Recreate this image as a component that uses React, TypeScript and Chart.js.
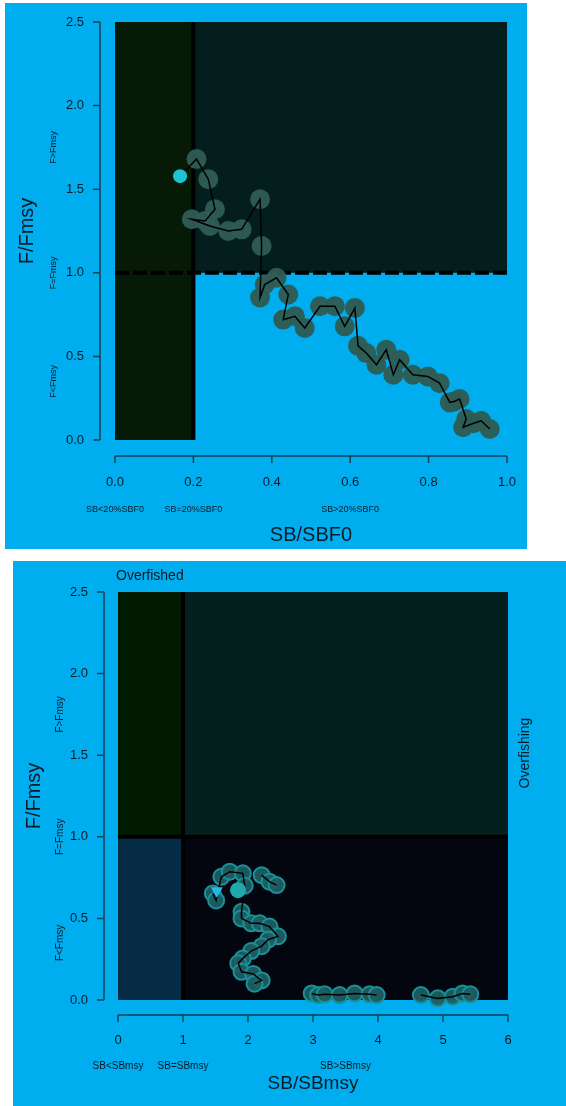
import React, { useEffect, useRef } from "react";
import { Chart, registerables } from "chart.js";

Chart.register(...registerables);

// ---------- Top panel (SB/SBF0) ----------
const topSB = [0.956, 0.934, 0.915, 0.888, 0.896, 0.879, 0.865, 0.854, 0.828, 0.798, 0.76, 0.726, 0.71, 0.692, 0.667, 0.641, 0.62, 0.612, 0.586, 0.561, 0.523, 0.484, 0.459, 0.429, 0.442, 0.412, 0.382, 0.37, 0.374, 0.37, 0.323, 0.289, 0.242, 0.196, 0.23, 0.255, 0.238, 0.208, 0.166];
const topF = [0.066, 0.115, 0.10, 0.076, 0.125, 0.245, 0.23, 0.225, 0.34, 0.38, 0.39, 0.48, 0.39, 0.54, 0.45, 0.52, 0.563, 0.79, 0.68, 0.80, 0.80, 0.67, 0.74, 0.72, 0.87, 0.97, 0.93, 0.852, 1.16, 1.44, 1.26, 1.25, 1.28, 1.32, 1.31, 1.38, 1.56, 1.68, 1.578];
const topCurrentSB = [0.166];
const topCurrentF = [1.578];
const topXTicks = [0, 0.2, 0.4, 0.6, 0.8, 1.0];
const topYTicks = [0, 0.5, 1.0, 1.5, 2.0, 2.5];
const topZoneLabels = ["SB<20%SBF0", "SB=20%SBF0", "SB>20%SBF0"];
const topZoneLabelAt = [0.0, 0.2, 0.6];
const topSBLimit = 0.2;

// ---------- Bottom panel (SB/SBmsy) ----------
const botSB = [1.46, 1.51, 1.59, 1.72, 1.92, 1.95, 1.90, 1.90, 2.05, 2.18, 2.33, 2.46, 2.31, 2.21, 2.05, 1.92, 1.85, 1.90, 2.08, 2.21, 2.10];
const botF = [0.653, 0.61, 0.755, 0.786, 0.776, 0.70, 0.54, 0.50, 0.47, 0.47, 0.45, 0.39, 0.37, 0.33, 0.30, 0.255, 0.225, 0.173, 0.16, 0.12, 0.10];
const botLoopSB = [2.21, 2.33, 2.44];
const botLoopF = [0.765, 0.725, 0.704];
const botLowASB = [2.98, 3.08, 3.18, 3.41, 3.64, 3.87, 3.98];
const botLowAF = [0.04, 0.03, 0.035, 0.03, 0.04, 0.035, 0.03];
const botLowBSB = [4.66, 4.92, 5.15, 5.30, 5.42];
const botLowBF = [0.03, 0.01, 0.02, 0.04, 0.035];
const botStartSB = [1.52];
const botStartF = [0.67];
const botCurrentSB = [1.846];
const botCurrentF = [0.673];
const botXTicks = [0, 1, 2, 3, 4, 5, 6];
const botYTicks = [0, 0.5, 1.0, 1.5, 2.0, 2.5];
const botZoneLabels = ["SB<SBmsy", "SB=SBmsy", "SB>SBmsy"];
const botZoneLabelAt = [0, 1, 3.5];
const botSBLimit = 1.0;

const fLimit = 1.0;
const fLabels = ["F>Fmsy", "F=Fmsy", "F<Fmsy"];
const fLabelAt = [1.75, 1.0, 0.35];

const BLUE = "#00aeef";
const FONT = "'Liberation Sans', Arial, Helvetica, sans-serif";
const INK = "#0a1b26";
const AXIS = "#123f55";

const pts = (xs: number[], ys: number[]) => xs.map((x, i) => ({ x, y: ys[i] }));

function decorPlugin(cfg: any) {
  return {
    id: "decor",
    beforeDatasetsDraw(chart: any) {
      const { ctx, scales } = chart;
      const x = scales.x, y = scales.y;
      ctx.save();
      for (const z of cfg.zones) {
        const x0 = x.getPixelForValue(z.x0), x1 = x.getPixelForValue(z.x1);
        const y0 = y.getPixelForValue(z.y0), y1 = y.getPixelForValue(z.y1);
        ctx.fillStyle = z.color;
        ctx.fillRect(x0, y1, x1 - x0, y0 - y1);
      }
      ctx.strokeStyle = "#000";
      ctx.lineWidth = 4;
      ctx.beginPath();
      ctx.moveTo(x.getPixelForValue(cfg.sbLimit), y.getPixelForValue(0));
      ctx.lineTo(x.getPixelForValue(cfg.sbLimit), y.getPixelForValue(y.max));
      ctx.stroke();
      ctx.setLineDash(cfg.hDash);
      ctx.beginPath();
      ctx.moveTo(x.getPixelForValue(x.min), y.getPixelForValue(fLimit));
      ctx.lineTo(x.getPixelForValue(x.max), y.getPixelForValue(fLimit));
      ctx.stroke();
      ctx.setLineDash([]);
      ctx.restore();
    },
    afterDraw(chart: any) {
      const { ctx, scales } = chart;
      const x = scales.x, y = scales.y;
      ctx.save();
      ctx.strokeStyle = AXIS;
      ctx.lineWidth = 1.5;
      const ax = cfg.yAxisX;
      ctx.beginPath();
      ctx.moveTo(ax, y.getPixelForValue(y.min));
      ctx.lineTo(ax, y.getPixelForValue(y.max));
      for (const t of y.ticks) {
        const py = y.getPixelForValue(t.value);
        ctx.moveTo(ax, py);
        ctx.lineTo(ax - 7, py);
      }
      ctx.stroke();
      const ay = cfg.xAxisY;
      ctx.beginPath();
      ctx.moveTo(x.getPixelForValue(x.min), ay);
      ctx.lineTo(x.getPixelForValue(x.max), ay);
      for (const t of x.ticks) {
        const px = x.getPixelForValue(t.value);
        ctx.moveTo(px, ay);
        ctx.lineTo(px, ay + 7);
      }
      ctx.stroke();

      ctx.fillStyle = INK;
      ctx.font = `${cfg.zoneFont}px ${FONT}`;
      ctx.textAlign = "center";
      ctx.textBaseline = "middle";
      cfg.zoneLabels.forEach((s: string, i: number) => {
        ctx.fillText(s, x.getPixelForValue(cfg.zoneLabelAt[i]), cfg.zoneLabelY);
      });
      ctx.font = `${cfg.fFont}px ${FONT}`;
      fLabels.forEach((s, i) => {
        ctx.save();
        ctx.translate(cfg.fLabelX, y.getPixelForValue(fLabelAt[i]));
        ctx.rotate(-Math.PI / 2);
        ctx.fillText(s, 0, 0);
        ctx.restore();
      });
      if (cfg.extra) cfg.extra(ctx, chart);
      ctx.restore();
    },
  };
}

function noPad(s: any) {
  s.paddingLeft = 0;
  s.paddingRight = 0;
  s.paddingTop = 0;
  s.paddingBottom = 0;
}

function makeOptions(o: any) {
  return {
    responsive: false,
    animation: false,
    devicePixelRatio: 1,
    layout: { padding: o.padding },
    plugins: { legend: { display: false }, tooltip: { enabled: false } },
    scales: {
      x: {
        type: "linear",
        min: o.xMin,
        max: o.xMax,
        afterBuildTicks: (s: any) => { s.ticks = o.xTicks.map((v: number) => ({ value: v })); },
        afterFit: (s: any) => { s.height = o.xHeight; noPad(s); },
        grid: { display: false, drawTicks: false },
        border: { display: false },
        ticks: {
          padding: o.xTickPad,
          color: INK,
          font: { family: FONT, size: 13 },
          maxRotation: 0,
          autoSkip: false,
          callback: o.xFmt,
        },
        title: {
          display: true,
          text: o.xTitle,
          color: INK,
          font: { family: FONT, size: o.titleSize },
          padding: { top: 0, bottom: o.xTitlePad },
        },
      },
      y: {
        type: "linear",
        min: 0,
        max: 2.5,
        afterBuildTicks: (s: any) => { s.ticks = o.yTicks.map((v: number) => ({ value: v })); },
        afterFit: (s: any) => { s.width = o.yWidth; noPad(s); },
        grid: { display: false, drawTicks: false },
        border: { display: false },
        ticks: {
          padding: o.yTickPad,
          color: INK,
          font: { family: FONT, size: 13 },
          autoSkip: false,
          callback: (v: any) => Number(v).toFixed(1),
        },
        title: {
          display: true,
          text: "F/Fmsy",
          color: INK,
          font: { family: FONT, size: 20 },
          padding: { top: o.yTitlePad, bottom: 0 },
        },
      },
    },
  };
}

export default function App() {
  const topRef = useRef<HTMLCanvasElement | null>(null);
  const botRef = useRef<HTMLCanvasElement | null>(null);

  useEffect(() => {
    const top = new Chart(topRef.current as HTMLCanvasElement, {
      type: "scatter",
      data: {
        datasets: [
          {
            data: pts(topCurrentSB, topCurrentF),
            pointRadius: 7,
            pointBackgroundColor: "#1ec3d3",
            pointBorderWidth: 0,
            clip: false,
          },
          {
            data: pts(topSB, topF),
            showLine: true,
            borderColor: "#000",
            borderWidth: 1.5,
            pointRadius: 0,
            clip: false,
          },
          {
            data: pts(topSB.slice(0, -1), topF.slice(0, -1)),
            pointRadius: 10,
            pointBackgroundColor: "rgba(47,92,83,0.96)",
            pointBorderWidth: 0,
            clip: false,
          },
        ],
      } as any,
      options: makeOptions({
        padding: { top: 19, right: 20, left: 0, bottom: 0 },
        xMin: 0, xMax: 1, xTicks: topXTicks, yTicks: topYTicks,
        xHeight: 109, yWidth: 110, xTickPad: 35, yTickPad: 31,
        xTitle: "SB/SBF0", titleSize: 20, xTitlePad: 2, yTitlePad: 10,
        xFmt: (v: any) => Number(v).toFixed(1),
      }) as any,
      plugins: [
        decorPlugin({
          zones: [
            { x0: 0, x1: topSBLimit, y0: 0, y1: 2.5, color: "#061a05" },
            { x0: topSBLimit, x1: 1, y0: fLimit, y1: 2.5, color: "#031e1d" },
          ],
          sbLimit: topSBLimit,
          hDash: [14, 4],
          yAxisX: 95,
          xAxisY: 453,
          zoneLabels: topZoneLabels,
          zoneLabelAt: topZoneLabelAt,
          zoneLabelY: 507,
          zoneFont: 9,
          fFont: 9,
          fLabelX: 49,
        }),
      ],
    });

    const bot = new Chart(botRef.current as HTMLCanvasElement, {
      type: "scatter",
      data: {
        datasets: [
          {
            data: pts(botStartSB, botStartF),
            pointStyle: "triangle",
            rotation: 180,
            pointRadius: 7,
            pointBackgroundColor: "#27b6e6",
            pointBorderWidth: 0,
            clip: false,
          },
          {
            data: pts(botCurrentSB, botCurrentF),
            pointRadius: 8,
            pointBackgroundColor: "#1fa9ad",
            pointBorderWidth: 0,
            clip: false,
          },
          ...[
            [botSB, botF],
            [botLoopSB, botLoopF],
            [botLowASB, botLowAF],
            [botLowBSB, botLowBF],
          ].map(([xs, ys]) => ({
            data: pts(xs, ys),
            showLine: true,
            borderColor: "#000",
            borderWidth: 1.5,
            pointRadius: 0,
            clip: false,
          })),
          ...[
            [botSB, botF],
            [botLoopSB, botLoopF],
            [botLowASB, botLowAF],
            [botLowBSB, botLowBF],
          ].map(([xs, ys]) => ({
            data: pts(xs, ys),
            pointRadius: 8,
            pointBackgroundColor: "rgba(29,94,98,0.95)",
            pointBorderColor: "#1a9098",
            pointBorderWidth: 2,
            clip: false,
          })),
        ],
      } as any,
      options: makeOptions({
        padding: { top: 31, right: 58, left: 0, bottom: 0 },
        xMin: 0, xMax: 6, xTicks: botXTicks, yTicks: botYTicks,
        xHeight: 106, yWidth: 105, xTickPad: 33, yTickPad: 30,
        xTitle: "SB/SBmsy", titleSize: 19, xTitlePad: 11, yTitlePad: 9,
        xFmt: (v: any) => String(v),
      }) as any,
      plugins: [
        decorPlugin({
          zones: [
            { x0: 0, x1: botSBLimit, y0: fLimit, y1: 2.5, color: "#011a02" },
            { x0: botSBLimit, x1: 6, y0: fLimit, y1: 2.5, color: "#03201f" },
            { x0: 0, x1: botSBLimit, y0: 0, y1: fLimit, color: "#052b46" },
            { x0: botSBLimit, x1: 6, y0: 0, y1: fLimit, color: "#03050f" },
          ],
          sbLimit: botSBLimit,
          hDash: [],
          yAxisX: 91,
          xAxisY: 454,
          zoneLabels: botZoneLabels,
          zoneLabelAt: botZoneLabelAt,
          zoneLabelY: 505,
          zoneFont: 10,
          fFont: 10,
          fLabelX: 47,
          extra: (ctx: CanvasRenderingContext2D) => {
            ctx.font = `14px ${FONT}`;
            ctx.fillStyle = INK;
            ctx.textAlign = "left";
            ctx.textBaseline = "middle";
            ctx.fillText("Overfished", 103, 15);
            ctx.save();
            ctx.translate(512, 192);
            ctx.rotate(-Math.PI / 2);
            ctx.textAlign = "center";
            ctx.fillText("Overfishing", 0, 0);
            ctx.restore();
          },
        }),
      ],
    });

    return () => {
      top.destroy();
      bot.destroy();
    };
  }, []);

  return (
    <div style={{ position: "absolute", left: 0, top: 0, width: 566, height: 1106, background: "#fff" }}>
      <div style={{ position: "absolute", left: 5, top: 3, width: 522, height: 546, background: BLUE }}>
        <canvas ref={topRef} width={522} height={546} style={{ display: "block" }} />
      </div>
      <div style={{ position: "absolute", left: 13, top: 561, width: 553, height: 545, background: BLUE }}>
        <canvas ref={botRef} width={553} height={545} style={{ display: "block" }} />
      </div>
    </div>
  );
}
